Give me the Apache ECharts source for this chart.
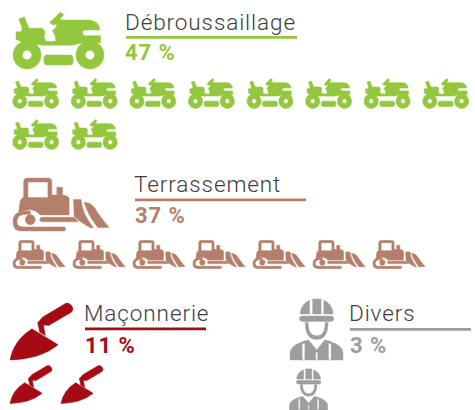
<!DOCTYPE html>
<html><head><meta charset="utf-8">
<style>
html,body{margin:0;padding:0;background:#fff}
#c{width:475px;height:410px}
#c text{letter-spacing:.9px}
</style>
<script src="https://cdn.jsdelivr.net/npm/echarts@6/dist/echarts.min.js"></script>
</head><body><div id="c"></div>
<script>
const categories=['Débroussaillage','Terrassement','Maçonnerie','Divers'];
const percents=[47,37,11,3];
const iconCounts=[10,7,2,1];
const colors=['#93c83e','#b5806b','#a60b14','#9d9e9f'];

const TRACTOR='path://M38,165A42,42 0 1 1 122,165A42,42 0 1 1 38,165ZM66,165A14,14 0 1 0 94,165A14,14 0 1 0 66,165Z'+
'M226,165A42,42 0 1 1 310,165A42,42 0 1 1 226,165ZM254,165A14,14 0 1 0 282,165A14,14 0 1 0 254,165Z'+
'M138,165L210,165Q218,165 218,180Q218,195 210,195L138,195Q130,195 130,180Q130,165 138,165Z'+
'M55,57L72,50L86,85L126,85L133,92L133,105L130,108L137,124L165,124L165,108L176,90L176,60L265,60Q295,62 298,90L255,90Q246,90 246,98Q246,107 255,107L300,107L300,128L240,130L215,136L130,136L70,129L47,118L47,95L62,95L65,85Z'+
'M147,68L180,36L190,44L160,76Z'+
'M162,70L180,52L180,95L166,110L156,92L170,78Z';
const DOZER='path://M60,105L70,95L70,52Q70,40 82,40L143,40Q155,40 155,52L155,90L170,90L170,67L187,67L187,90Q207,92 207,100L207,148L120,148Q110,135 90,132L55,140ZM83,52L83,97L143,97L143,52Z'+
'M38,168Q38,140 65,138L90,136L90,146L70,147Q50,150 50,168Q50,183 68,183L192,183Q197,183 197,189Q197,195 190,195L62,195Q38,195 38,168Z'+
'M75,162A15,15 0 1 1 105,162A15,15 0 1 1 75,162Z'+
'M125,155L222,155L235,168L125,168Q119,168 119,161Q119,155 125,155Z'+
'M220,103L243,103Q246,145 280,185L272,186Q240,170 222,152Z'+
'M252,112Q277,110 292,140Q310,165 327,185L293,185Q264,150 252,112Z';
const TROWEL='path://M30,207Q40,150 95,115L173,162Q120,205 30,207Z'+
'M112,97L128,97L135,135L118,125Z'+
'M127,80L195,40Q205,36 213,47Q221,58 212,66L145,105L120,103L112,97Z';
const WORKER='path://M60,72Q62,42 88,32L88,72ZM97,28L122,28L122,72L97,72ZM130,32Q156,42 158,72L130,72Z'+
'M68,78L150,78Q160,78 160,86Q160,94 150,94L68,94Q58,94 58,86Q58,78 68,78Z'+
'M75,97L84,97Q84,136 109,136Q134,136 134,97L143,97Q143,147 109,147Q75,147 75,97Z'+
'M30,207L30,185Q32,165 70,152L85,148L109,178L133,148L148,152Q186,165 187,185L187,207Z'+
'M66,160L66,207L74,207L74,157ZM106,184L106,207L112,207L112,184ZM144,157L144,207L152,207L152,160Z';
const symbols=[TRACTOR,DOZER,TROWEL,WORKER];

// layout only: text = [x, baseline of title], pct = [x, baseline of percentage]
const layout=[
 {big:[13,12,91,57],text:[125,31],rule:[126,36,171],pct:[125,61.5],cols:8,left:6.4,top:73,pitchX:59.3,pitchY:41,small:[46,30]},
 {big:[13,178,96,53],text:[134,193],rule:[135,198.5,171],pct:[135,224.5],cols:7,left:9,top:234,pitchX:60,pitchY:41,small:[52,28]},
 {big:[10,303,63,57],text:[84,322],rule:[85,327.5,121],pct:[85,354.5],cols:2,left:5.5,top:364,pitchX:51,pitchY:41,small:[42,38]},
 {big:[290,299,53,61],text:[349,322],rule:[350,328,121],pct:[350,354.5],cols:1,left:289,top:369,pitchX:39,pitchY:41,small:[38,41]}
];
const titleSize=22.5,pctSize=22;

const grid=[],xAxis=[],yAxis=[],series=[],graphic=[];
categories.forEach((name,k)=>{
  const L=layout[k],n=iconCounts[k],rows=Math.ceil(n/L.cols);
  const pts=[];for(let i=0;i<n;i++)pts.push([i%L.cols,Math.floor(i/L.cols)]);
  let g=grid.length;
  grid.push({left:L.left,top:L.top,width:L.cols*L.pitchX,height:rows*L.pitchY});
  xAxis.push({gridIndex:g,show:false,type:'value',min:-0.5,max:L.cols-0.5});
  yAxis.push({gridIndex:g,show:false,type:'value',inverse:true,min:-0.5,max:rows-0.5});
  series.push({type:'scatter',name,xAxisIndex:g,yAxisIndex:g,data:pts,symbol:symbols[k],symbolSize:L.small,clip:false,itemStyle:{color:colors[k],opacity:1,borderColor:colors[k],borderWidth:0.6},silent:true});
  g=grid.length;
  grid.push({left:L.big[0],top:L.big[1],width:L.big[2],height:L.big[3]});
  xAxis.push({gridIndex:g,show:false,type:'value',min:0,max:1});
  yAxis.push({gridIndex:g,show:false,type:'value',min:0,max:1});
  series.push({type:'scatter',name,xAxisIndex:g,yAxisIndex:g,data:[[0.5,0.5]],symbol:symbols[k],symbolSize:[L.big[2],L.big[3]],clip:false,itemStyle:{color:colors[k],opacity:1,borderColor:colors[k],borderWidth:0.4},silent:true});
  graphic.push({type:'text',left:L.text[0],top:L.text[1]-titleSize*0.93,silent:true,style:{text:name,fill:'#3d3d3d',font:'300 '+titleSize+'px Roboto'}});
  graphic.push({type:'rect',silent:true,shape:{x:L.rule[0],y:L.rule[1],width:L.rule[2],height:2.8},style:{fill:colors[k]}});
  graphic.push({type:'text',left:L.pct[0],top:L.pct[1]-pctSize*0.93,silent:true,style:{text:percents[k]+' %',fill:colors[k],font:'bold '+pctSize+'px Roboto'}});
});
const chart=echarts.init(document.getElementById('c'),null,{renderer:'svg'});
chart.setOption({animation:false,backgroundColor:'#fff',grid,xAxis,yAxis,series,graphic});
</script></body></html>
